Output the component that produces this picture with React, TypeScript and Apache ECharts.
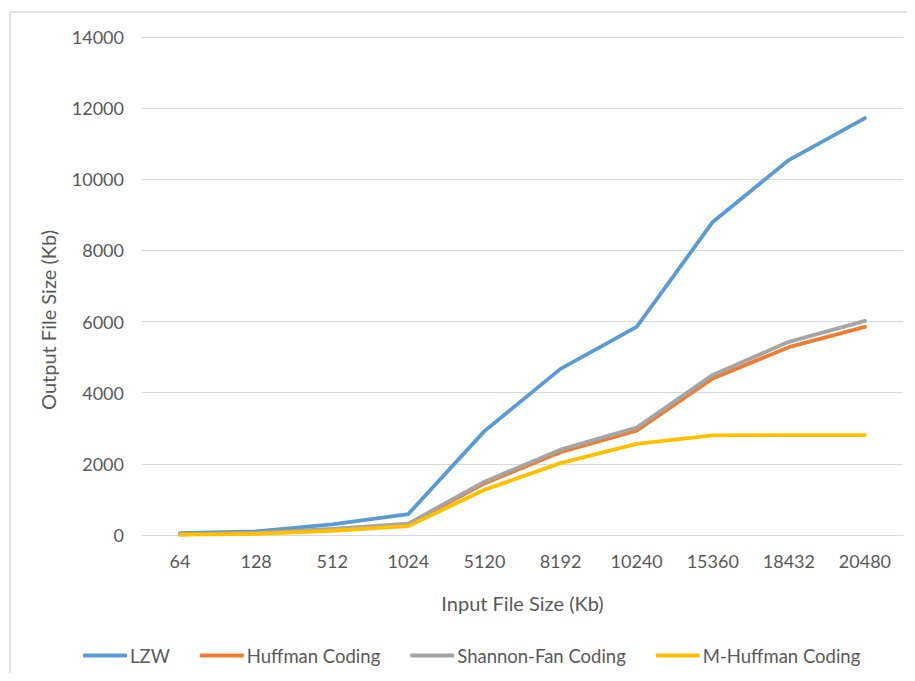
import React, { useEffect, useRef } from "react";
import * as echarts from "echarts";

const categories = ["64", "128", "512", "1024", "5120", "8192", "10240", "15360", "18432", "20480"];
const lzw = [50, 100, 300, 590, 2920, 4670, 5850, 8800, 10540, 11720];
const huffman = [20, 50, 150, 300, 1450, 2330, 2930, 4400, 5280, 5850];
const shannonFan = [20, 60, 170, 320, 1500, 2400, 3020, 4500, 5430, 6020];
const mHuffman = [10, 30, 120, 250, 1270, 2020, 2560, 2800, 2810, 2810];
const seriesNames = ["LZW", "Huffman Coding", "Shannon-Fan Coding", "M-Huffman Coding"];
const colors = ["#5B9BD5", "#ED7D31", "#A5A5A5", "#FFC000"];

const FONT = "Lato, 'Open Sans', sans-serif";
const TEXT_COLOR = "#595959";

export default function App() {
  const ref = useRef<HTMLDivElement>(null);
  useEffect(() => {
    if (!ref.current) return;
    const chart = echarts.init(ref.current, undefined, { renderer: "svg" });
    const data = [lzw, huffman, shannonFan, mHuffman];
    chart.setOption({
      animation: false,
      backgroundColor: "#ffffff",
      textStyle: { fontFamily: FONT },
      graphic: [
        {
          type: "rect",
          shape: { x: 2, y: 4, width: 920, height: 690 },
          style: { fill: "none", stroke: "#d9d9d9", lineWidth: 1.5 },
          silent: true,
        },
        {
          type: "text",
          x: 39.5,
          y: 312,
          rotation: Math.PI / 2,
          style: {
            text: "Output File Size (Kb)",
            fill: TEXT_COLOR,
            fontSize: 20,
            fontFamily: FONT,
            align: "center",
            verticalAlign: "middle",
          },
          silent: true,
        },
      ],
      grid: { left: 134, right: 4, top: 29, bottom: 138, containLabel: false },
      legend: {
        top: 633,
        left: 70,
        itemWidth: 44,
        itemHeight: 4,
        itemGap: 30,
        icon: "roundRect",
        textStyle: { color: TEXT_COLOR, fontSize: 18.5, fontFamily: FONT, padding: [0, 0, 0, -2] },
        data: seriesNames,
      },
      xAxis: {
        type: "category",
        data: categories,
        boundaryGap: true,
        name: "Input File Size (Kb)",
        nameLocation: "middle",
        nameGap: 58,
        nameTextStyle: { color: TEXT_COLOR, fontSize: 20, fontFamily: FONT },
        axisLine: { show: true, lineStyle: { color: "#d9d9d9", width: 1 } },
        axisTick: { show: false },
        axisLabel: { color: TEXT_COLOR, fontSize: 18, margin: 17, fontFamily: FONT },
      },
      yAxis: {
        type: "value",
        min: 0,
        max: 14000,
        interval: 2000,
        axisLine: { show: false },
        axisTick: { show: false },
        axisLabel: {
          color: TEXT_COLOR,
          fontSize: 18,
          margin: 18,
          fontFamily: FONT,
          formatter: (v: number) => String(v),
        },
        splitLine: { lineStyle: { color: "#d9d9d9", width: 1 } },
      },
      series: seriesNames.map((name, i) => ({
        name,
        type: "line",
        data: data[i],
        symbol: "none",
        color: colors[i],
        lineStyle: { width: 3.8, color: colors[i], cap: "round", join: "round" },
        z: 2 + i,
      })),
    });
    return () => chart.dispose();
  }, []);
  return <div ref={ref} style={{ width: 899, height: 665 }} />;
}
